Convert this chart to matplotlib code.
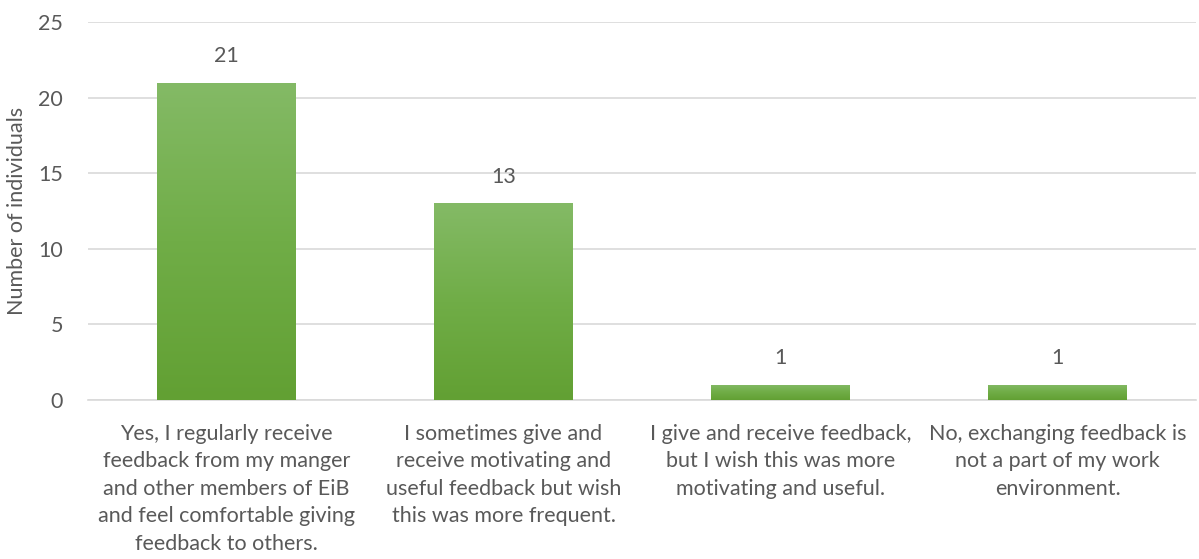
import matplotlib
matplotlib.use("Agg")
import matplotlib.pyplot as plt
import numpy as np
from matplotlib.colors import LinearSegmentedColormap

categories = [
    "Yes, I regularly receive\nfeedback from my manger\nand other members of EiB\nand feel comfortable giving\nfeedback to others.",
    "I sometimes give and\nreceive motivating and\nuseful feedback but wish\nthis was more frequent.",
    "I give and receive feedback,\nbut I wish this was more\nmotivating and useful.",
    "No, exchanging feedback is\nnot a part of my work\nenvironment.",
]
counts = [21, 13, 1, 1]

plt.rcParams['font.family'] = ['Lato', 'DejaVu Sans']
grey = '#595959'
fs = 15.5

fig = plt.figure(figsize=(11.99, 5.59), dpi=100)
ax = fig.add_axes([0.0734, 0.2844, 0.9241, 0.6762])

x = np.arange(len(counts))
bars = ax.bar(x, counts, width=0.5, color='none', zorder=3)

# vertical gradient, lighter at top
cmap = LinearSegmentedColormap.from_list('g', ['#62A033', '#70AD47', '#84BA66'])
grad = np.linspace(0, 1, 256).reshape(-1, 1)
for b in bars:
    x0, y0 = b.get_x(), b.get_y()
    w, h = b.get_width(), b.get_height()
    im = ax.imshow(grad, cmap=cmap, origin='lower', aspect='auto',
                   extent=[x0, x0 + w, y0, y0 + h], zorder=3)
    im.set_clip_path(b)

for xi, v in zip(x, counts):
    ax.text(xi, v + 1.1, str(v), ha='center', va='bottom', fontsize=fs, color=grey)

ax.set_xlim(-0.5, len(counts) - 0.5)
ax.set_ylim(0, 25)
ax.set_yticks(range(0, 26, 5))
ax.grid(axis='y', color='#d9d9d9', linewidth=1.2, zorder=0)
ax.set_axisbelow(True)
for s in ['top', 'right', 'left']:
    ax.spines[s].set_visible(False)
ax.spines['bottom'].set_color('#d9d9d9')
ax.spines['bottom'].set_linewidth(1.2)

ax.set_xticks(x)
ax.set_xticklabels(categories, fontsize=fs, color=grey, linespacing=1.47)
ax.tick_params(axis='x', length=0, pad=17)
ax.tick_params(axis='y', length=0, labelsize=fs, labelcolor=grey, pad=18)
ax.set_ylabel('Number of individuals', fontsize=fs, color=grey, labelpad=8)

fig.savefig('out.png', dpi=100)
